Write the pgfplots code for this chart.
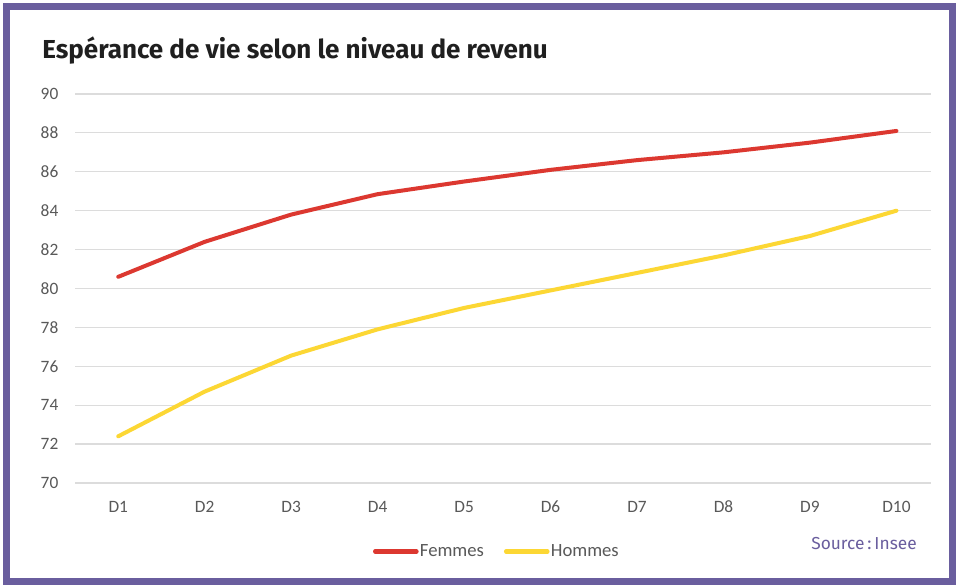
\documentclass[border=0pt]{standalone}
\usepackage{pgfplots}
\pgfplotsset{compat=1.18}
\usepackage{fontspec}
\setmainfont{Carlito}
\newfontfamily\firasans{Fira Sans}
\definecolor{frame}{RGB}{106,94,158}
\definecolor{redline}{RGB}{220,56,48}
\definecolor{yelline}{RGB}{252,215,52}
\definecolor{gridc}{RGB}{220,220,220}
\definecolor{txt}{RGB}{89,89,89}
\begin{document}
\begin{tikzpicture}[x=0.75pt,y=0.75pt]
\useasboundingbox (0,0) rectangle (956,585);
\fill[white] (0,0) rectangle (956,585);
\draw[frame,line width=5.25pt] (6.5,3.5) rectangle (952.5,578.5);
\node[anchor=base west,inner sep=0pt,font=\firasans\bfseries\fontsize{19.5}{22}\selectfont,text=black!88] at (42,526) {Espérance de vie selon le niveau de revenu};
\node[anchor=base east,inner sep=0pt,font=\firasans\fontsize{13}{16}\selectfont,text=frame] at (917,36) {Source\,:\,Insee};
\begin{axis}[
  at={(56.25pt,76.5pt)}, anchor=south west,
  scale only axis, width=642pt, height=291.75pt,
  xmin=-0.5, xmax=9.4, ymin=70, ymax=90,
  xtick={0,...,9},
  xticklabels={D1,D2,D3,D4,D5,D6,D7,D8,D9,D10},
  ytick={70,72,...,90},
  axis line style={draw=none},
  major tick length=0pt,
  ymajorgrids, grid style={gridc,line width=0.9pt},
  tick label style={font=\fontsize{13}{15}\selectfont,text=txt},
  /pgf/number format/assume math mode=true,
  xticklabel style={yshift=-10pt},
  yticklabel style={xshift=-9pt},
  legend style={at={(0.4925,-0.176)},anchor=center,draw=none,fill=none,
    legend columns=2,font=\fontsize{14}{16}\selectfont,text=txt,
    /tikz/every even column/.append style={column sep=14pt},
    nodes={inner sep=1pt},
    inner sep=0pt},
  legend image code/.code={\draw[#1,line width=3.2pt,line cap=round] (0pt,0pt) -- (31pt,0pt);},
  clip=false,
]
\addplot[redline,line width=3pt,line cap=round,line join=round] coordinates {
(0,80.6) (1,82.4) (2,83.8) (3,84.85) (4,85.5) (5,86.1) (6,86.6) (7,87.0) (8,87.5) (9,88.1)};
\addlegendentry{Femmes}
\addplot[yelline,line width=3pt,line cap=round,line join=round] coordinates {
(0,72.4) (1,74.7) (2,76.55) (3,77.9) (4,79.0) (5,79.9) (6,80.8) (7,81.7) (8,82.7) (9,84.0)};
\addlegendentry{Hommes}
\end{axis}
\end{tikzpicture}
\end{document}
